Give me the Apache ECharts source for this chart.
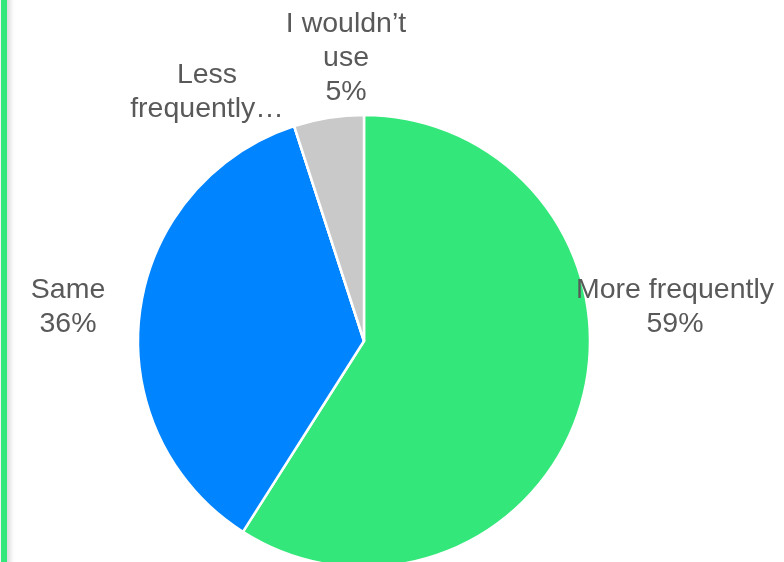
<!DOCTYPE html>
<html>
<head>
<meta charset="utf-8">
<script src="https://cdn.jsdelivr.net/npm/echarts@6/dist/echarts.min.js"></script>
<style>
  html, body { margin: 0; padding: 0; background: #ffffff; }
  #chart { width: 784px; height: 562px; }
</style>
</head>
<body>
<div id="chart"></div>
<script>
// Survey answers, clockwise from 12 o'clock
const categories = ['More frequently', 'Same', 'Less frequently', 'I wouldn\u2019t use'];
const shares = [59, 36, 0, 5];
// Wrapped label text shown next to each slice
const labelLines = ['More frequently', 'Same', 'Less\nfrequently\u2026', 'I wouldn\u2019t\nuse'];

const sliceColors = ['#34E77A', '#0084FF', '#0084FF', '#C9C9C9'];
// Label anchor points (centre of each text block)
const labelAnchors = [[675, 307], [68, 307], [207, 92], [346, 58]];

const chart = echarts.init(document.getElementById('chart'), null, { renderer: 'canvas' });

chart.setOption({
  backgroundColor: '#ffffff',
  animation: false,
  graphic: [{
    type: 'rect',
    shape: { x: 1, y: -10, width: 6, height: 582 },
    style: { fill: '#34E77A', shadowBlur: 6, shadowOffsetX: 2, shadowColor: 'rgba(0,0,0,0.22)' }
  }],
  series: [{
    type: 'pie',
    center: [364, 341],
    radius: [0, 226],
    startAngle: 90,
    clockwise: true,
    avoidLabelOverlap: false,
    itemStyle: { borderColor: '#ffffff', borderWidth: 2.5 },
    label: {
      show: true,
      position: 'outside',
      color: '#595959',
      fontFamily: 'Liberation Sans, Arial, sans-serif',
      fontSize: 28.5,
      lineHeight: 34,
      align: 'center',
      formatter: function (p) {
        const txt = labelLines[p.dataIndex];
        return p.value > 0 ? txt + '\n' + Math.round(p.percent) + '%' : txt;
      }
    },
    labelLine: { show: false },
    labelLayout: function (p) {
      const a = labelAnchors[p.dataIndex];
      return { x: a[0], y: a[1], align: 'center', verticalAlign: 'middle' };
    },
    data: categories.map(function (name, i) {
      return { name: name, value: shares[i], itemStyle: { color: sliceColors[i] } };
    })
  }]
});
</script>
</body>
</html>
